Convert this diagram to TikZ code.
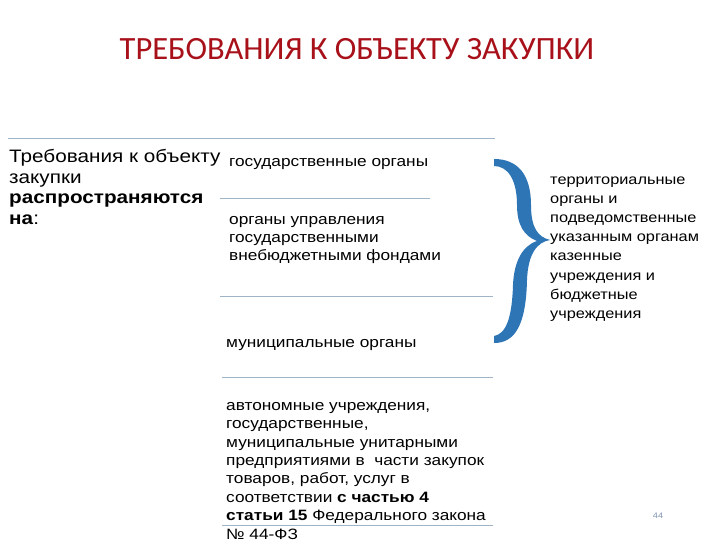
\documentclass[tikz,border=0pt]{standalone}
\usepackage{fontspec}
\setmainfont{Liberation Sans}[FakeStretch=1.15]
\newfontfamily\titlefont{Carlito}
\definecolor{titlered}{RGB}{168,16,26}
\definecolor{rulecol}{RGB}{160,180,200}
\definecolor{bracecol}{RGB}{46,117,182}
\definecolor{numcol}{RGB}{130,150,175}
\tikzset{
  titletext/.style={inner sep=0pt, text=titlered, font=\titlefont\fontsize{32.5}{38}\selectfont},
  lefttext/.style={inner sep=0pt, anchor=north west, align=left, font=\fontsize{18}{20.5}\selectfont},
  midtext/.style={inner sep=0pt, anchor=north west, align=left, font=\fontsize{15}{18.4}\selectfont},
  righttext/.style={inner sep=0pt, anchor=north west, align=left, font=\fontsize{14.2}{19.2}\selectfont},
  numtext/.style={inner sep=0pt, text=numcol, font=\fontsize{8}{9}\selectfont},
  rule/.style={draw=rulecol, line width=1pt}
}
\begin{document}
\begin{tikzpicture}[x=1pt,y=-1pt]
\useasboundingbox (0,0) rectangle (720,540);
\fill[white] (0,0) rectangle (720,540);

\node[titletext] (title) at (357,49.5) {ТРЕБОВАНИЯ К ОБЪЕКТУ ЗАКУПКИ};

% rules
\draw[rule] (8,139) -- (495,139);
\draw[rule] (220,199) -- (430,199);
\draw[rule] (220,296) -- (493,296);
\draw[rule] (222,377.5) -- (493,377.5);
\draw[rule] (222,525.5) -- (493,525.5);

% left text
\node[lefttext] (lead) at (9,148.4) {\strut Требования к объекту\\закупки\\\textbf{распространяются}\\\textbf{на}:};

% middle column
\node[midtext] (gos) at (229,153.5) {\strut государственные органы};
\node[midtext] (funds) at (229,211) {\strut органы управления\\государственными\\внебюджетными фондами};
\node[midtext] (mun) at (226,334.5) {\strut муниципальные органы};
\node[midtext] (auto) at (226,397.3) {\strut автономные учреждения,\\государственные,\\муниципальные унитарными\\предприятиями в\ \ части закупок\\товаров, работ, услуг в\\соответствии \textbf{с частью 4}\\\textbf{статьи 15} Федерального закона\\№ 44-ФЗ};

% brace
\fill[bracecol] (494,159)
  .. controls (518,159) and (531,175) .. (531,205)
  .. controls (531,228) and (538,237) .. (550,240)
  .. controls (537,242) and (528,254) .. (527,280)
  .. controls (526,325) and (515,343) .. (494,343)
  -- (494,336)
  .. controls (506,334) and (512,318) .. (513,285)
  .. controls (514,262) and (522,246) .. (537,241)
  .. controls (524,236) and (517,225) .. (517,205)
  .. controls (517,180) and (508,166) .. (494,166)
  -- cycle;

% right text
\node[righttext] (terr) at (550,170.5) {\strut территориальные\\органы и\\подведомственные\\указанным органам\\казенные\\учреждения и\\бюджетные\\учреждения};

\node[numtext] (page) at (658,515.5) {44};
\end{tikzpicture}
\end{document}
